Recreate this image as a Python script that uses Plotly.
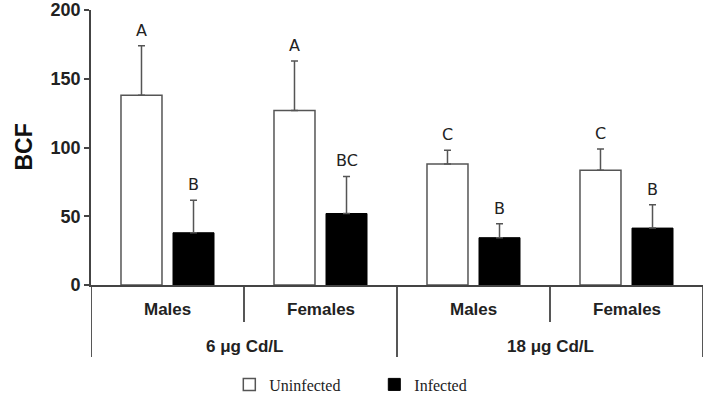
import plotly.graph_objects as go

groups = ["Males", "Females", "Males", "Females"]
conc = ["6 μg Cd/L", "18 μg Cd/L"]
uninf = [138, 127, 88, 83.5]
uninf_err = [36, 36, 10, 15.5]
inf = [38, 52, 34.4, 41.4]
inf_err = [23.6, 27, 10.2, 17]
uninf_letters = ["A", "A", "C", "C"]
inf_letters = ["B", "BC", "B", "B"]

bargap = 0.32
bargroupgap = 0.212
off = (1 - bargap) / 4

xs = list(range(len(groups)))
dark = "#444"

fig = go.Figure()
fig.add_trace(go.Bar(
    x=xs, y=uninf, name="Uninfected",
    marker=dict(color="white", line=dict(color="#555", width=1.5)),
    error_y=dict(type="data", array=uninf_err, arrayminus=[0]*4, symmetric=False,
                 color="#555", thickness=1.5, width=3.5),
))
fig.add_trace(go.Bar(
    x=xs, y=inf, name="Infected",
    marker=dict(color="black", line=dict(color="black", width=1)),
    error_y=dict(type="data", array=inf_err, arrayminus=[0]*4, symmetric=False,
                 color="#555", thickness=1.5, width=3.5),
))

ann = []
for i in xs:
    ann.append(dict(x=i - off, y=uninf[i] + uninf_err[i], text=uninf_letters[i],
                    xref="x", yref="y", showarrow=False, yanchor="bottom", yshift=4,
                    font=dict(family="DejaVu Sans", size=16, color="#222")))
    ann.append(dict(x=i + off, y=inf[i] + inf_err[i], text=inf_letters[i],
                    xref="x", yref="y", showarrow=False, yanchor="bottom", yshift=4,
                    font=dict(family="DejaVu Sans", size=16, color="#222")))
    ann.append(dict(x=i, y=-0.089, text=groups[i], xref="x", yref="paper",
                    showarrow=False, yanchor="middle",
                    font=dict(family="Liberation Sans", size=17, color="#222", weight="bold")))
for j, c in enumerate(conc):
    ann.append(dict(x=2 * j + 0.5, y=-0.224, text=c, xref="x", yref="paper",
                    showarrow=False, yanchor="middle",
                    font=dict(family="Liberation Sans", size=17, color="#222", weight="bold")))
ann.append(dict(x=-0.111, y=0.5, text="BCF", xref="paper", yref="paper", showarrow=False,
                textangle=-90, xanchor="center", yanchor="middle",
                font=dict(family="Liberation Sans", size=23, color="#111", weight="bold")))

shapes = []
for k in range(len(groups) + 1):
    bx = k - 0.5
    long_ = (k % 2 == 0)
    shapes.append(dict(type="line", xref="x", yref="paper", x0=bx, x1=bx,
                       y0=0, y1=-0.262 if long_ else -0.1345,
                       line=dict(color=dark, width=1.8)))

fig.update_layout(
    width=717, height=400,
    margin=dict(l=91, r=14, t=10, b=115, autoexpand=False),
    plot_bgcolor="white", paper_bgcolor="white",
    barmode="group", bargap=bargap, bargroupgap=bargroupgap,
    showlegend=True,
    legend=dict(orientation="h", x=0.226, y=-0.30, xanchor="left", yanchor="top",
                font=dict(family="Liberation Serif", size=16, color="#222"),
                itemwidth=30, entrywidth=100, bgcolor="rgba(0,0,0,0)"),
    annotations=ann, shapes=shapes,
    xaxis=dict(range=[-0.5, 3.5], showticklabels=False, ticks="", showgrid=False,
               zeroline=False, showline=True, linecolor=dark, linewidth=1.8),
    yaxis=dict(range=[0, 200], tickvals=[0, 50, 100, 150, 200], ticks="outside",
               ticklen=5, tickwidth=1.5, tickcolor=dark, showgrid=False, zeroline=False,
               showline=True, linecolor=dark, linewidth=1.8,
               tickfont=dict(family="Liberation Sans", size=18, color="#222", weight="bold")),
)

fig.write_html("out.html")
